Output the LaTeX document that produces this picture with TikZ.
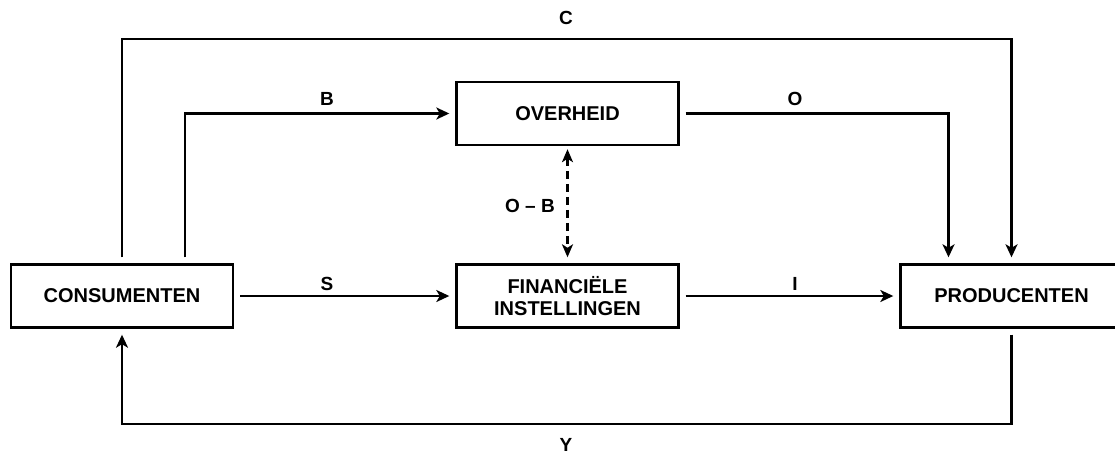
\documentclass[tikz,border=0pt]{standalone}
\usepackage{fontspec}
\setmainfont{Liberation Sans}
\usetikzlibrary{arrows.meta}
\begin{document}
\begin{tikzpicture}[x=1pt,y=-1pt,
  sector/.style={draw,line width=2.4pt,minimum width=222pt,minimum height=63pt,
    inner sep=0pt,align=center,font=\fontsize{20}{22}\selectfont\bfseries},
  tip/.style={Stealth[length=13pt,width=12pt,inset=3.5pt]},
  flow/.style={line width=2.2pt,-{Stealth[length=13pt,width=12pt,inset=3.5pt]},
    shorten <=6pt,shorten >=6pt},
  lbl/.style={font=\fontsize{19}{21}\selectfont\bfseries}]
\useasboundingbox (0,0) rectangle (1115,455);
% sectors of the economy
\node[sector] (cons) at (122,296) {CONSUMENTEN};
\node[sector] (over) at (567.5,113.5) {OVERHEID};
\node[sector] (fin) at (567.5,296) {FINANCIËLE\\INSTELLINGEN};
\node[sector] (prod) at (1011.5,296) {PRODUCENTEN};
% flows of money
\draw[flow] (cons.north) |- (566,39) -| (prod.north);
\draw[flow] ([xshift=63pt]cons.north) |- (over.west);
\draw[flow] (over.east) -| ([xshift=-63pt]prod.north);
\draw[flow] (cons.east) -- (fin.west);
\draw[flow] (fin.east) -- (prod.west);
\draw[flow] (prod.south) |- (566,424) -| (cons.south);
\draw[flow,{Stealth[length=13pt,width=11pt,inset=3.5pt]}-{Stealth[length=13pt,width=11pt,inset=3.5pt]},
  dash pattern=on 8pt off 5pt,shorten <=3pt,shorten >=6pt] (over.south) -- (fin.north);
% labels
\node[lbl] (lc) at (566,18) {C};
\node[lbl] (lb) at (327,99) {B};
\node[lbl] (lo) at (795,99) {O};
\node[lbl] (lob) at (530,206) {O – B};
\node[lbl] (ls) at (327,284) {S};
\node[lbl] (li) at (795,284) {I};
\node[lbl] (ly) at (566,445) {Y};
\end{tikzpicture}
\end{document}
